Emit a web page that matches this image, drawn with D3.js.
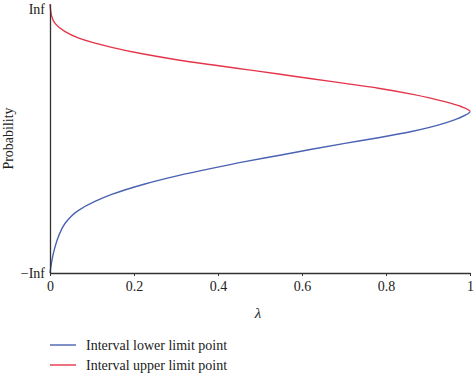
<!DOCTYPE html>
<html>
<head>
<meta charset="utf-8">
<script src="https://cdn.jsdelivr.net/npm/d3@7"></script>
<style>
  body { margin: 0; background: #fff; }
  svg text { font-family: "Liberation Serif", "DejaVu Serif", serif; fill: #222; }
</style>
</head>
<body>
<svg id="chart" width="474" height="377"></svg>
<script>
// lambda (x) and normalised probability position (0 = -Inf, 1 = Inf)
const lowerLambda = [0, 0.008, 0.020, 0.036, 0.067, 0.107, 0.147, 0.226, 0.305, 0.385, 0.464, 0.544, 0.623, 0.702, 0.782, 0.861, 0.940, 0.972, 1];
const lowerProb   = [0, 0.073, 0.135, 0.185, 0.232, 0.266, 0.292, 0.331, 0.362, 0.389, 0.414, 0.437, 0.460, 0.482, 0.503, 0.526, 0.557, 0.575, 0.600];
const upperLambda = [1, 0.980, 0.940, 0.861, 0.782, 0.702, 0.623, 0.544, 0.464, 0.385, 0.305, 0.226, 0.147, 0.067, 0.036, 0.012, 0.004, 0];
const upperProb   = [0.600, 0.618, 0.637, 0.665, 0.687, 0.705, 0.722, 0.740, 0.757, 0.774, 0.792, 0.813, 0.839, 0.874, 0.897, 0.928, 0.955, 1];

const xTicks = [0, 0.2, 0.4, 0.6, 0.8, 1];
const xTickLabels = ["0", "0.2", "0.4", "0.6", "0.8", "1"];
const yTicks = [0, 1];
const yTickLabels = ["\u2212Inf", "Inf"];

const seriesNames = ["Interval lower limit point", "Interval upper limit point"];
const seriesColors = ["#4a62b2", "#e4354a"];
const meetProb = 0.600;

const svg = d3.select("#chart");
const margin = { left: 50, right: 4, top: 4, bottom: 104 };
const width = 474, height = 377;

const x = d3.scaleLinear().domain([0, 1]).range([margin.left, width - margin.right]);
const y = d3.scaleLinear().domain([0, 1]).range([height - margin.bottom, margin.top]);

// one outline ordered bottom to top, so the tip comes out smooth
const outline = lowerLambda.map((l, i) => [l, lowerProb[i]])
  .concat(upperLambda.slice(1).map((l, i) => [l, upperProb[i + 1]]));

const line = d3.line()
  .x((d) => x(d[0]))
  .y((d) => y(d[1]))
  .curve(d3.curveMonotoneY);

const defs = svg.append("defs");
defs.append("clipPath").attr("id", "clip-lower")
  .append("rect").attr("x", 0).attr("y", y(meetProb)).attr("width", width).attr("height", height);
defs.append("clipPath").attr("id", "clip-upper")
  .append("rect").attr("x", 0).attr("y", 0).attr("width", width).attr("height", y(meetProb));

svg.append("path").datum(outline)
  .attr("d", line).attr("fill", "none")
  .attr("clip-path", "url(#clip-lower)")
  .attr("stroke", seriesColors[0]).attr("stroke-width", 1.4);
svg.append("path").datum(outline)
  .attr("d", line).attr("fill", "none")
  .attr("clip-path", "url(#clip-upper)")
  .attr("stroke", seriesColors[1]).attr("stroke-width", 1.4);

// x axis
const xAxis = svg.append("g")
  .attr("transform", `translate(0,${y(0)})`)
  .call(d3.axisBottom(x).tickValues(xTicks)
    .tickFormat((d, i) => xTickLabels[i]).tickSizeInner(3).tickSizeOuter(0).tickPadding(5));
xAxis.select(".domain").attr("stroke", "#333").attr("stroke-width", 1.3);
xAxis.selectAll(".tick line").attr("stroke", "#333");
xAxis.selectAll("text").attr("font-size", 14).attr("fill", "#222");

// y axis
const yAxis = svg.append("g")
  .attr("transform", `translate(${x(0)},0)`)
  .call(d3.axisLeft(y).tickValues(yTicks)
    .tickFormat((d, i) => yTickLabels[i]).tickSize(0).tickPadding(5));
yAxis.select(".domain").attr("stroke", "#333").attr("stroke-width", 1.3);
yAxis.selectAll("text").attr("font-size", 14).attr("fill", "#222");
yAxis.selectAll(".tick").filter((d) => d === 1).select("text").attr("dy", "0.65em");

// axis titles
svg.append("text")
  .attr("x", (x(0) + x(1)) / 2 - 2)
  .attr("y", 318)
  .attr("text-anchor", "middle")
  .attr("font-size", 15)
  .attr("font-style", "italic")
  .text("\u03bb");

svg.append("text")
  .attr("transform", `translate(13,${(y(0) + y(1)) / 2}) rotate(-90)`)
  .attr("text-anchor", "middle")
  .attr("font-size", 14)
  .text("Probability");

// legend
const legend = svg.append("g");
seriesNames.forEach((name, i) => {
  const ly = 345 + i * 20;
  legend.append("line")
    .attr("x1", 50).attr("x2", 76).attr("y1", ly).attr("y2", ly)
    .attr("stroke", seriesColors[i]).attr("stroke-width", 1.4);
  legend.append("text")
    .attr("x", 86).attr("y", ly + 5)
    .attr("font-size", 14)
    .text(name);
});
</script>
</body>
</html>
